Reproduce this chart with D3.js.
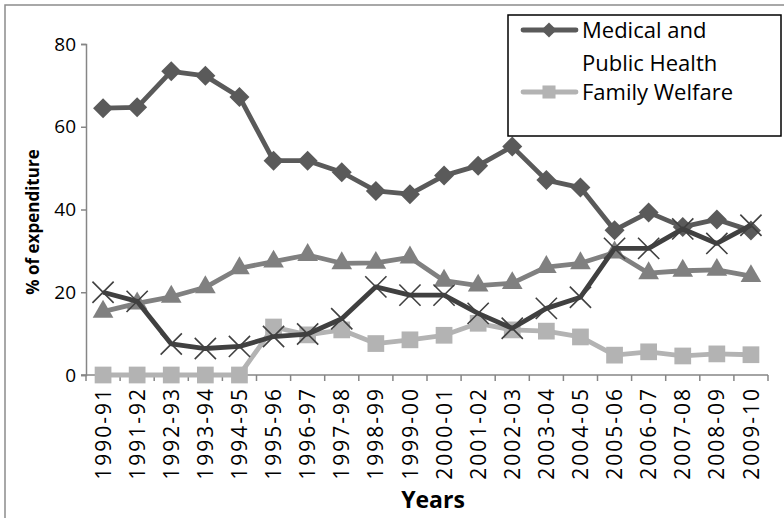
<!DOCTYPE html>
<html>
<head>
<meta charset="utf-8">
<script src="https://cdn.jsdelivr.net/npm/d3@7"></script>
<style>
  body { margin: 0; background: #fff; }
  svg { display: block; }
</style>
</head>
<body>
<svg></svg>
<script>
var years = ['1990-91','1991-92','1992-93','1993-94','1994-95','1995-96','1996-97','1997-98','1998-99','1999-00',
  '2000-01','2001-02','2002-03','2003-04','2004-05','2005-06','2006-07','2007-08','2008-09','2009-10'];
var medical = [64.5, 64.7, 73.4, 72.3, 67.2, 51.8, 51.8, 49, 44.5, 43.7, 48.2, 50.6, 55.2, 47.1, 45.3, 35, 39.3, 35.8, 37.6, 34.9];
var familyWelfare = [0, 0, 0, 0, 0, 11.6, 9.7, 10.9, 7.6, 8.5, 9.6, 12.5, 10.9, 10.6, 9.2, 4.8, 5.6, 4.6, 5.1, 4.9];
var seriesTri = [15.3, 17.3, 18.9, 21.2, 25.8, 27.4, 29, 27, 27.1, 28.4, 22.8, 21.6, 22.2, 26.1, 27, 29.6, 24.6, 25.2, 25.4, 23.9];
var seriesCross = [20, 17.8, 7.5, 6.4, 6.9, 9.3, 9.9, 13.6, 21.3, 19.3, 19.3, 14.9, 11.3, 16.1, 18.8, 30.6, 30.6, 35.3, 31.8, 36.2];
var yTicks = [0, 20, 40, 60, 80];

var svg = d3.select('svg').attr('width', 784).attr('height', 518);

// outer chart border (runs off the canvas right/bottom)
svg.append('rect')
  .attr('x', 5).attr('y', 5).attr('width', 820).attr('height', 600)
  .attr('fill', 'none').attr('stroke', '#8c8c8c').attr('stroke-width', 1.5);

var x = d3.scaleBand().domain(years).range([86, 768]);
var y = d3.scaleLinear().domain([0, 80]).range([375, 44]);
var cx = d => x(d) + x.bandwidth() / 2;

var tickFont = '"Open Sans", sans-serif';

// y axis
var yAxis = svg.append('g')
  .attr('transform', 'translate(86,0)')
  .call(d3.axisLeft(y).tickValues(yTicks).tickSize(5).tickPadding(5));
yAxis.select('.domain').attr('stroke', '#868686').attr('stroke-width', 1.5);
yAxis.selectAll('.tick line').attr('stroke', '#868686').attr('stroke-width', 1.5);
yAxis.selectAll('.tick text')
  .attr('font-family', tickFont).attr('font-size', '19px').attr('fill', '#000');

// x axis line and ticks between categories
svg.append('line')
  .attr('x1', 81).attr('x2', 768).attr('y1', y(0)).attr('y2', y(0))
  .attr('stroke', '#868686').attr('stroke-width', 1.5);
svg.selectAll('.xtick')
  .data(years.concat(['end']))
  .enter().append('line')
  .attr('class', 'xtick')
  .attr('x1', (d, i) => i < years.length ? x(d) : x.range()[1])
  .attr('x2', (d, i) => i < years.length ? x(d) : x.range()[1])
  .attr('y1', y(0)).attr('y2', y(0) + 6)
  .attr('stroke', '#868686').attr('stroke-width', 1.5);

svg.selectAll('.xlabel')
  .data(years)
  .enter().append('text')
  .attr('class', 'xlabel')
  .attr('transform', d => 'translate(' + cx(d) + ',387) rotate(-90)')
  .attr('text-anchor', 'end')
  .attr('dy', '0.36em')
  .attr('font-family', tickFont).attr('font-size', '21px')
  .attr('letter-spacing', '2px')
  .text(d => d);

// axis titles
svg.append('text')
  .attr('x', 433).attr('y', 508)
  .attr('text-anchor', 'middle')
  .attr('font-family', tickFont).attr('font-weight', 'bold').attr('font-size', '23px')
  .text('Years');
svg.append('text')
  .attr('transform', 'translate(39,222) rotate(-90)')
  .attr('text-anchor', 'middle')
  .attr('font-family', tickFont).attr('font-weight', 'bold').attr('font-size', '17px')
  .text('% of expenditure');

var line = d3.line().x((d, i) => cx(years[i])).y(d => y(d));

// thin X marker: a plus that gets rotated 45 degrees
var crossSymbol = {
  draw: function(ctx, size) {
    var r = Math.sqrt(size) / 2;
    ctx.moveTo(-r, 0); ctx.lineTo(r, 0);
    ctx.moveTo(0, -r); ctx.lineTo(0, r);
  }
};

function drawSeries(values, color, symbol, size, rotate, stroked) {
  var g = svg.append('g');
  g.append('path')
    .datum(values)
    .attr('d', line)
    .attr('fill', 'none')
    .attr('stroke', color)
    .attr('stroke-width', 4.8)
    .attr('stroke-linejoin', 'round');
  g.selectAll('path.mk')
    .data(values)
    .enter().append('path')
    .attr('class', 'mk')
    .attr('transform', (d, i) => 'translate(' + cx(years[i]) + ',' + y(d) + ')' + (rotate ? ' rotate(45)' : ''))
    .attr('d', d3.symbol().type(symbol).size(size))
    .attr('fill', stroked ? 'none' : color)
    .attr('stroke', stroked ? color : 'none')
    .attr('stroke-width', stroked ? 1.6 : 0);
}

drawSeries(medical, '#5a5a5a', d3.symbolSquare, 200, true, false);
drawSeries(familyWelfare, '#b3b3b3', d3.symbolSquare, 280, false, false);
drawSeries(seriesTri, '#808080', d3.symbolTriangle, 185, false, false);
drawSeries(seriesCross, '#404040', crossSymbol, 900, true, true);

// legend (two entries, as in the original)
var leg = svg.append('g');
leg.append('rect')
  .attr('x', 508).attr('y', 15).attr('width', 273).attr('height', 121)
  .attr('fill', '#fff').attr('stroke', '#000').attr('stroke-width', 1.5);
var legItems = [
  { lines: ['Medical and', 'Public Health'], color: '#5a5a5a', size: 115, rot: 45, y: 30 },
  { lines: ['Family Welfare'], color: '#b3b3b3', size: 170, rot: 0, y: 92 }
];
legItems.forEach(function(it) {
  leg.append('line')
    .attr('x1', 523).attr('x2', 576).attr('y1', it.y).attr('y2', it.y)
    .attr('stroke', it.color).attr('stroke-width', 4.8).attr('stroke-linecap', 'round');
  leg.append('path')
    .attr('transform', 'translate(549,' + it.y + ') rotate(' + it.rot + ')')
    .attr('d', d3.symbol().type(d3.symbolSquare).size(it.size))
    .attr('fill', it.color);
  it.lines.forEach(function(t, k) {
    leg.append('text')
      .attr('x', 582).attr('y', it.y + 8 + k * 33)
      .attr('font-family', tickFont).attr('font-size', '22px')
      .text(t);
  });
});
</script>
</body>
</html>
